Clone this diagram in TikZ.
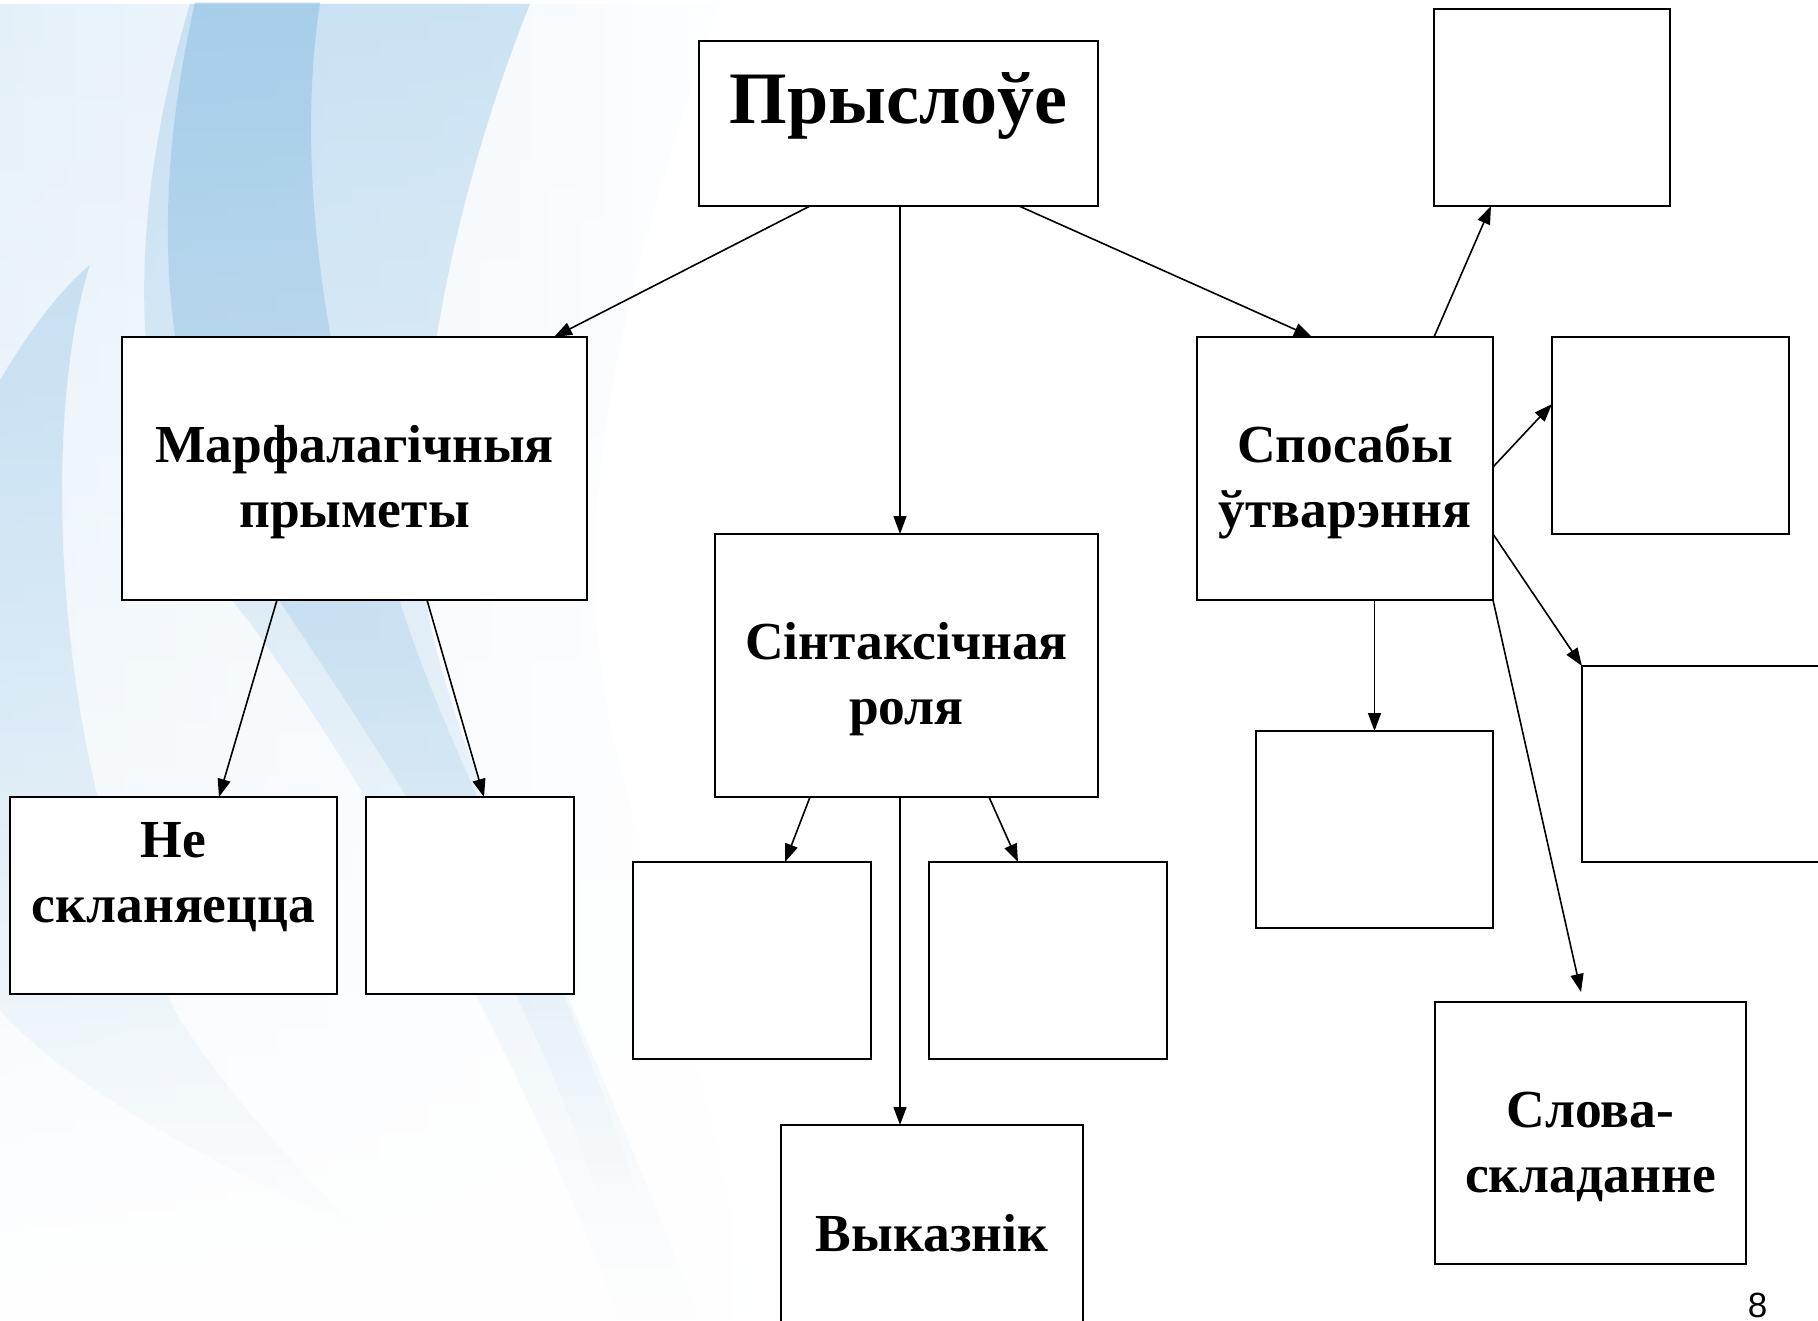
\documentclass[tikz,border=0pt]{standalone}
\usepackage{fontspec}
\setmainfont{Liberation Serif}
\newfontfamily\numfont{Liberation Sans}
\usetikzlibrary{arrows.meta,fadings}

\definecolor{bgpale}{RGB}{228,240,249}
\definecolor{bgmid}{RGB}{190,219,240}
\definecolor{bgdark}{RGB}{140,190,226}

\newcommand{\tallstrut}{\rule{0pt}{64pt}}

\tikzfading[name=fadelow, top color=transparent!0, middle color=transparent!15, bottom color=transparent!100]

\tikzset{
  box/.style={draw, line width=2.3pt, fill=white, outer sep=0pt, inner sep=0pt,
    align=center, font=\bfseries\fontsize{53.5}{65}\selectfont},
  arr/.style={-{Triangle[length=18pt,width=13pt]}, line width=1.6pt},
}

\begin{document}
\begin{tikzpicture}[x=1pt, y=-1pt]

\useasboundingbox (0,0) rectangle (1818,1320);
\fill[white] (0,0) rectangle (1818,1320);

% background swirls
\shade[left color=bgpale, right color=white, path fading=fadelow]
  (0,0) -- (720,0) .. controls (620,300) and (560,520) .. (620,760)
  .. controls (680,980) and (720,1150) .. (760,1320) -- (0,1320) -- cycle;
\fill[bgmid, opacity=.75, path fading=fadelow]
  (190,0) .. controls (130,200) and (110,450) .. (250,620)
  .. controls (380,800) and (520,1050) .. (620,1320)
  -- (700,1320) .. controls (580,1000) and (470,800) .. (430,620)
  .. controls (400,450) and (450,200) .. (530,0) -- cycle;
\fill[bgdark, opacity=.55, path fading=fadelow]
  (195,0) .. controls (150,200) and (150,420) .. (280,600)
  .. controls (400,780) and (520,960) .. (600,1200)
  -- (640,1200) .. controls (560,950) and (450,760) .. (400,600)
  .. controls (340,420) and (290,200) .. (320,0) -- cycle;
\fill[bgmid, opacity=.8, path fading=fadelow]
  (90,265) .. controls (40,420) and (50,780) .. (180,1020)
  .. controls (240,1110) and (300,1170) .. (360,1230)
  .. controls (200,1160) and (60,1080) .. (0,1010)
  -- (0,380) .. controls (30,330) and (60,290) .. (90,265) -- cycle;

% boxes
\node[box, minimum width=399pt, minimum height=165pt, text height=50pt, text depth=50pt,
  font=\bfseries\fontsize{74}{80}\selectfont] (root) at (898.5,123.5) {Прыслоўе};

\node[box, minimum width=465pt, minimum height=263pt] (marf) at (354.5,468.5) {\tallstrut Марфалагічныя\\прыметы};
\node[box, minimum width=383pt, minimum height=263pt] (sint) at (906.5,665.5) {\tallstrut Сінтаксічная\\роля};
\node[box, minimum width=296pt, minimum height=263pt] (spos) at (1345,468.5) {\tallstrut Спосабы\\ўтварэння};

\node[box, minimum width=327pt, minimum height=197pt,
  label={[name=ne-t, font=\bfseries\fontsize{53.5}{65}\selectfont, align=center, yshift=18pt]center:Не\\скланяецца}] (ne) at (173.5,895.5) {};
\node[box, minimum width=208pt, minimum height=197pt] (e2) at (470,895.5) {};

\node[box, minimum width=238pt, minimum height=197pt] (c1) at (752,960.5) {};
\node[box, minimum width=238pt, minimum height=197pt] (c2) at (1048,960.5) {};
\node[box, minimum width=302pt, minimum height=216pt] (vy) at (932,1233) {Выказнік};

\node[box, minimum width=236pt, minimum height=197pt] (tr) at (1552,107.5) {};
\node[box, minimum width=237pt, minimum height=197pt] (rb) at (1670.5,435.5) {};
\node[box, minimum width=237pt, minimum height=196pt] (fr) at (1700.5,764) {};
\node[box, minimum width=237pt, minimum height=197pt] (bl) at (1374.5,829.5) {};
\node[box, minimum width=311pt, minimum height=262pt] (sl) at (1590.5,1133) {\tallstrut Слова-\\складанне};

% arrows
\draw[arr] ([xshift=111pt]root.south west) -- ([xshift=432pt]marf.north west);
\draw[arr] ([xshift=201pt]root.south west) -- ([xshift=185pt]sint.north west);
\draw[arr] ([xshift=320pt]root.south west) -- ([xshift=115pt]spos.north west);

\draw[arr] ([xshift=155pt]marf.south west) -- ([xshift=209pt]ne.north west);
\draw[arr] ([xshift=305pt]marf.south west) -- ([xshift=118pt]e2.north west);

\draw[arr] ([xshift=95pt]sint.south west) -- ([xshift=152pt]c1.north west);
\draw[arr] ([xshift=274pt]sint.south west) -- ([xshift=89pt]c2.north west);
\draw[arr] ([xshift=185pt]sint.south west) -- ([xshift=119pt]vy.north west);

\draw[arr] ([xshift=237pt]spos.north west) -- ([xshift=57pt]tr.south west);
\draw[arr] ([yshift=-130pt]spos.north east) -- ([yshift=-67pt]rb.north west);
\draw[arr] ([yshift=-197pt]spos.north east) -- (fr.north west);
\draw[arr] (bl.north |- spos.south) -- (bl.north);
\draw[arr] (spos.south east) -- ([xshift=146pt,yshift=10pt]sl.north west);

% page number
\node[inner sep=0pt, font=\numfont\fontsize{35}{40}\selectfont] (num) at (1757.5,1305) {8};

\end{tikzpicture}
\end{document}
